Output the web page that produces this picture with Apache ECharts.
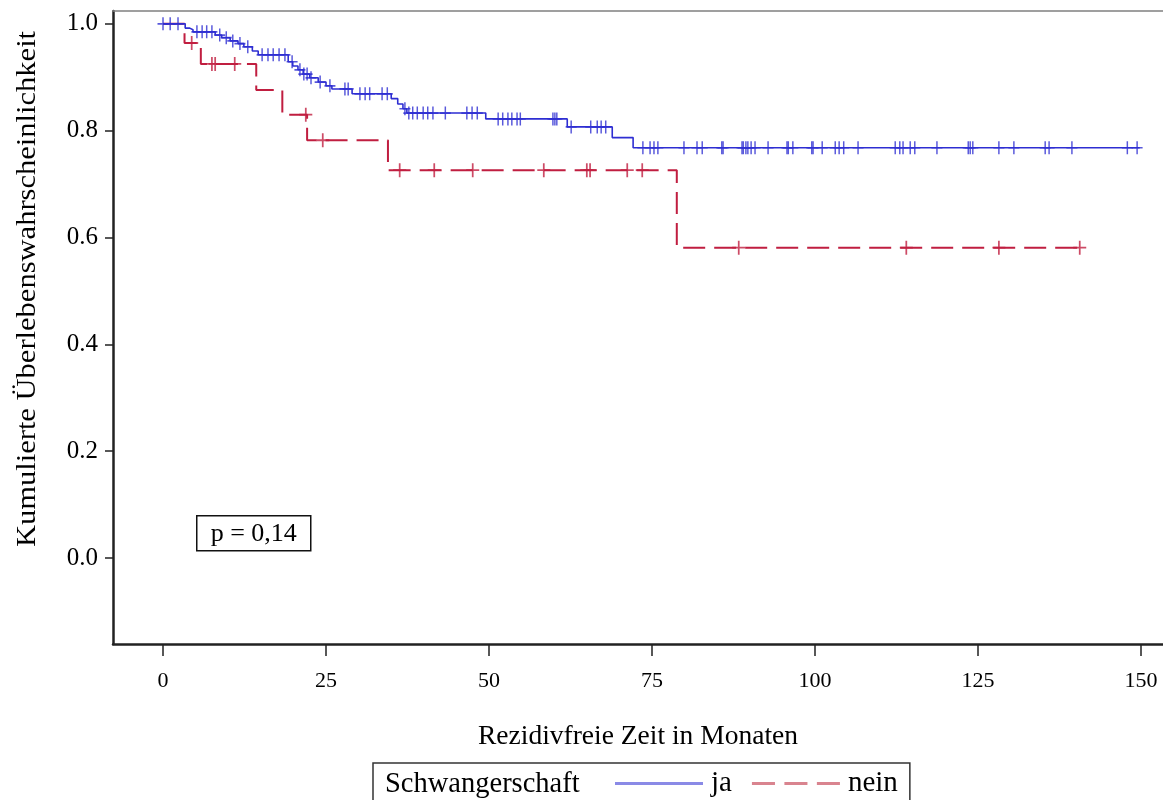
<!DOCTYPE html>
<html>
<head>
<meta charset="utf-8">
<script src="https://cdn.jsdelivr.net/npm/echarts@6/dist/echarts.min.js"></script>
<style>
  html, body { margin: 0; padding: 0; background: #fff; }
  #chart { width: 1163px; height: 800px; }
</style>
</head>
<body>
<div id="chart"></div>
<script>
// Kaplan-Meier: rezidivfreies Überleben nach Schwangerschaft (ja / nein)

// Ereigniszeitpunkte (Monate) und Überlebenswahrscheinlichkeit nach dem Ereignis
const jaEventTimes = [3.4, 4.1, 4.6, 8.0, 9.0, 10.3, 11.5, 12.4, 13.7, 14.6, 19.2, 19.9, 20.7, 21.5, 22.5, 23.8, 25.0, 25.9, 29.0, 35.0, 36.0, 36.8, 37.4, 49.5, 62.0, 68.9, 72.1];
const jaSurvival   = [0.992, 0.989, 0.985, 0.979, 0.974, 0.968, 0.963, 0.957, 0.949, 0.942, 0.929, 0.921, 0.914, 0.906, 0.899, 0.891, 0.884, 0.878, 0.869, 0.860, 0.850, 0.841, 0.833, 0.822, 0.807, 0.787, 0.768];
const jaLastTime = 149.8;
// zensierte Beobachtungen (Monate)
const jaCensored = [0.0, 1.1, 2.3, 5.2, 6.0, 6.7, 7.5, 8.7, 9.7, 10.7, 11.8, 13.0, 15.2, 16.1, 16.9, 17.8, 18.7, 19.8, 21.0, 21.6, 22.1, 22.7, 24.1, 25.6, 27.9, 28.4, 30.2, 31.0, 31.7, 33.6, 34.4, 37.1, 37.7, 38.3, 39.0, 39.9, 40.6, 41.4, 43.3, 46.6, 47.4, 48.2, 51.4, 52.1, 52.9, 53.5, 54.3, 54.8, 59.8, 60.1, 60.4, 62.6, 65.6, 66.6, 67.2, 67.9, 73.6, 74.7, 75.3, 75.9, 79.9, 81.9, 82.7, 85.7, 85.9, 88.8, 89.0, 89.4, 89.7, 90.2, 90.8, 92.8, 95.7, 95.9, 96.6, 99.5, 99.7, 101.1, 103.1, 103.7, 104.4, 106.6, 112.3, 113.0, 113.5, 114.6, 115.3, 118.7, 123.5, 123.8, 124.2, 128.2, 130.5, 135.3, 135.9, 139.4, 147.9, 149.4];

const neinEventTimes = [3.3, 5.8, 14.3, 18.3, 22.1, 34.5, 78.8];
const neinSurvival   = [0.964, 0.925, 0.876, 0.830, 0.782, 0.726, 0.581];
const neinLastTime = 141.0;
const neinCensored = [4.4, 7.5, 8.0, 11.0, 21.9, 24.5, 36.3, 41.6, 47.5, 58.4, 65.0, 65.5, 71.2, 73.5, 88.3, 114.0, 128.2, 140.6];

const xTicks = [0, 25, 50, 75, 100, 125, 150];
const yTicks = [0, 0.2, 0.4, 0.6, 0.8, 1.0];
const xTitle = 'Rezidivfreie Zeit in Monaten';
const yTitle = 'Kumulierte Überlebenswahrscheinlichkeit';
const legendTitle = 'Schwangerschaft';
const pValueText = 'p = 0,14';

const FONT = '"Liberation Serif", "DejaVu Serif", serif';
const BLUE = '#2e2ed2';
const RED = '#c01e40';

// Treppenfunktion als Punktfolge für step:'end'
function stepLine(times, surv, lastTime) {
  const pts = [[0, 1]];
  times.forEach((t, i) => pts.push([t, surv[i]]));
  pts.push([lastTime, surv[surv.length - 1]]);
  return pts;
}
// Überlebenswert zum Zeitpunkt t (für Zensurmarken)
function survAt(times, surv, t) {
  let s = 1;
  for (let i = 0; i < times.length; i++) {
    if (times[i] <= t) s = surv[i]; else break;
  }
  return s;
}

const plusPath = 'path://M5.2,0h1.6v5.2h5.2v1.6h-5.2v5.2h-1.6v-5.2h-5.2v-1.6h5.2z';
// Legendensymbole: durchgezogene bzw. gestrichelte Linie
const solidIcon = 'path://M0,0h88v3h-88z';
const dashedIcon = 'path://M0,0h22v3h-22zM31,0h22v3h-22zM62,0h22v3h-22z';

const chart = echarts.init(document.getElementById('chart'), null, { renderer: 'canvas' });

chart.setOption({
  backgroundColor: '#ffffff',
  animation: false,
  textStyle: { fontFamily: FONT, color: '#000' },
  grid: { left: 113, top: 11, right: 0, bottom: 156, show: false },
  xAxis: [
    {
      type: 'value',
      min: -7.67, max: 153.37,
      name: xTitle,
      nameLocation: 'middle',
      nameGap: 79,
      nameTextStyle: { fontFamily: FONT, fontSize: 27.5, color: '#000' },
      axisLine: { show: true, onZero: false, lineStyle: { color: '#222', width: 2.5 } },
      axisTick: { show: true, length: 12, customValues: xTicks, lineStyle: { color: '#222', width: 1.5 } },
      axisLabel: { customValues: xTicks, margin: 26, fontFamily: FONT, fontSize: 22, color: '#000' },
      splitLine: { show: false }
    },
    {
      // obere Rahmenlinie
      type: 'value', position: 'top',
      min: -7.67, max: 153.37,
      axisLine: { show: true, onZero: false, lineStyle: { color: '#808080', width: 1.5 } },
      axisTick: { show: false }, axisLabel: { show: false }, splitLine: { show: false }
    }
  ],
  yAxis: {
    type: 'value',
    min: -0.161, max: 1.024,
    axisLine: { show: true, onZero: false, lineStyle: { color: '#222', width: 2.5 } },
    axisTick: { show: true, length: 8, customValues: yTicks, lineStyle: { color: '#222', width: 1.5 } },
    axisLabel: {
      customValues: yTicks, margin: 15, fontFamily: FONT, fontSize: 25, color: '#000',
      formatter: v => v.toFixed(1)
    },
    splitLine: { show: false }
  },
  legend: {
    data: [
      { name: 'ja', icon: solidIcon, itemStyle: { color: '#8a8ae6' } },
      { name: 'nein', icon: dashedIcon, itemStyle: { color: '#d9848f' } }
    ],
    left: 373, top: 763,
    orient: 'horizontal',
    itemWidth: 88, itemHeight: 3, itemGap: 20,
    symbolKeepAspect: false,
    padding: [6, 12, 20, 242],
    borderColor: '#333', borderWidth: 1.5, borderRadius: 0,
    backgroundColor: '#fff',
    textStyle: { fontFamily: FONT, fontSize: 29, color: '#000', padding: [0, 0, 0, 3] }
  },
  graphic: [
    {
      type: 'text',
      x: 28, y: 289,
      rotation: Math.PI / 2,
      scaleX: 1.11,
      style: { text: yTitle, font: '27.5px ' + FONT, fill: '#000', align: 'center', verticalAlign: 'middle' }
    },
    {
      type: 'text',
      left: 385, top: 770,
      style: { text: legendTitle, font: '28.5px ' + FONT, fill: '#000' },
      z: 100
    },
    {
      type: 'group',
      left: 196, top: 515,
      children: [
        { type: 'rect', shape: { x: 0, y: 0, width: 114, height: 35 },
          style: { fill: '#fff', stroke: '#111', lineWidth: 1.5 } },
        { type: 'text', x: 57, y: 18,
          style: { text: pValueText, font: '26px ' + FONT, fill: '#000', align: 'center', verticalAlign: 'middle' } }
      ]
    }
  ],
  series: [
    {
      name: 'ja', type: 'line', step: 'end',
      data: stepLine(jaEventTimes, jaSurvival, jaLastTime),
      symbol: 'none', color: BLUE,
      lineStyle: { color: BLUE, width: 1.6 }, z: 3
    },
    {
      name: 'nein', type: 'line', step: 'end',
      data: stepLine(neinEventTimes, neinSurvival, neinLastTime),
      symbol: 'none', color: RED,
      lineStyle: { color: RED, width: 2, type: [22, 9] }, z: 2
    },
    {
      name: 'ja zensiert', type: 'scatter',
      data: jaCensored.map(t => [t, survAt(jaEventTimes, jaSurvival, t)]),
      symbol: plusPath, symbolSize: [11, 13],
      itemStyle: { color: BLUE }, z: 4
    },
    {
      name: 'nein zensiert', type: 'scatter',
      data: neinCensored.map(t => [t, survAt(neinEventTimes, neinSurvival, t)]),
      symbol: plusPath, symbolSize: [13, 14],
      itemStyle: { color: RED }, z: 4
    }
  ]
});
</script>
</body>
</html>
